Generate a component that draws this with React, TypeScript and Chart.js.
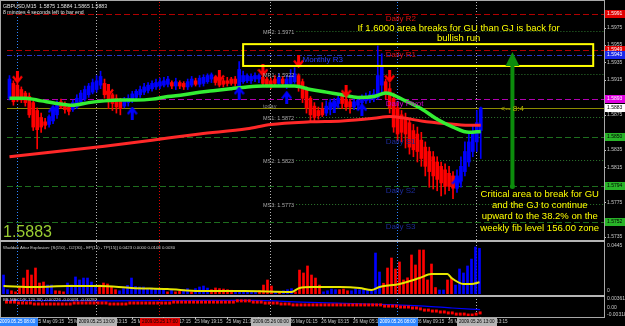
import React, { useEffect, useRef } from 'react';
import { Chart, registerables } from 'chart.js';

Chart.register(...registerables);

const W = 625;
const H = 326;
const FONT = "'Liberation Sans', Arial, sans-serif";
const BLUE = '#0000ff';
const RED = '#ff0000';

// ---------- header ----------
const symbolLine = 'GBPUSD,M15  1.5875 1.5884 1.5865 1.5883';
const timerLine = '8 minutes 4 seconds left to bar end';
const lastPrice = 1.5883;
const lastPriceText = '1.5883';
const timerTag = '<-- 8:4';

// ---------- Heikin-Ashi candles (15 minute bars) ----------
const opens = [
  1.5894, 1.5911, 1.5909, 1.5904, 1.5900, 1.5896, 1.5889, 1.5880, 1.5872, 1.5867,
  1.5864, 1.5868, 1.5875, 1.5890, 1.5888, 1.5884, 1.5881, 1.5884, 1.5890, 1.5893,
  1.5898, 1.5901, 1.5904, 1.5909, 1.5911, 1.5902, 1.5898, 1.5894, 1.5891, 1.5885,
  1.5889, 1.5892, 1.5895, 1.5898, 1.5901, 1.5903, 1.5905, 1.5907, 1.5908, 1.5909,
  1.5910, 1.5912, 1.5908, 1.5912, 1.5911, 1.5907, 1.5909, 1.5914, 1.5910, 1.5911,
  1.5913, 1.5916, 1.5918, 1.5916, 1.5914, 1.5914, 1.5916, 1.5916, 1.5904, 1.5913,
  1.5914, 1.5914, 1.5916, 1.5916, 1.5918, 1.5916, 1.5914, 1.5916, 1.5911, 1.5916,
  1.5909, 1.5911, 1.5913, 1.5920, 1.5913, 1.5904, 1.5894, 1.5885, 1.5880, 1.5882,
  1.5877, 1.5881, 1.5884, 1.5888, 1.5896, 1.5893, 1.5890, 1.5884, 1.5886, 1.5889,
  1.5891, 1.5892, 1.5893, 1.5895, 1.5909, 1.5913, 1.5905, 1.5894, 1.5883, 1.5875,
  1.5872, 1.5866, 1.5857, 1.5853, 1.5846, 1.5838, 1.5833, 1.5827, 1.5821, 1.5816,
  1.5812, 1.5808, 1.5805, 1.5792, 1.5799, 1.5810, 1.5821, 1.5833, 1.5844, 1.5857,
];
const closes = [
  1.5916, 1.5890, 1.5892, 1.5892, 1.5889, 1.5875, 1.5861, 1.5858, 1.5861, 1.5863,
  1.5873, 1.5882, 1.5886, 1.5884, 1.5881, 1.5879, 1.5889, 1.5894, 1.5900, 1.5904,
  1.5908, 1.5912, 1.5914, 1.5919, 1.5898, 1.5892, 1.5888, 1.5884, 1.5882, 1.5892,
  1.5894, 1.5899, 1.5902, 1.5904, 1.5907, 1.5909, 1.5911, 1.5912, 1.5913, 1.5914,
  1.5916, 1.5908, 1.5913, 1.5908, 1.5907, 1.5913, 1.5916, 1.5910, 1.5917, 1.5918,
  1.5920, 1.5921, 1.5912, 1.5909, 1.5910, 1.5911, 1.5911, 1.5911, 1.5927, 1.5920,
  1.5920, 1.5919, 1.5920, 1.5920, 1.5911, 1.5909, 1.5909, 1.5911, 1.5918, 1.5911,
  1.5916, 1.5920, 1.5922, 1.5907, 1.5894, 1.5883, 1.5875, 1.5872, 1.5874, 1.5875,
  1.5885, 1.5889, 1.5891, 1.5894, 1.5888, 1.5884, 1.5884, 1.5890, 1.5892, 1.5894,
  1.5896, 1.5898, 1.5899, 1.5920, 1.5931, 1.5898, 1.5883, 1.5861, 1.5853, 1.5855,
  1.5853, 1.5838, 1.5835, 1.5833, 1.5825, 1.5816, 1.5810, 1.5805, 1.5801, 1.5797,
  1.5793, 1.5793, 1.5791, 1.5805, 1.5816, 1.5833, 1.5844, 1.5855, 1.5866, 1.5883,
];
const highs = [
  1.5920, 1.5914, 1.5911, 1.5907, 1.5902, 1.5900, 1.5891, 1.5883, 1.5877, 1.5871,
  1.5875, 1.5884, 1.5891, 1.5893, 1.5890, 1.5886, 1.5892, 1.5898, 1.5903, 1.5908,
  1.5911, 1.5916, 1.5920, 1.5925, 1.5916, 1.5904, 1.5900, 1.5898, 1.5894, 1.5895,
  1.5898, 1.5902, 1.5904, 1.5908, 1.5911, 1.5912, 1.5914, 1.5916, 1.5917, 1.5918,
  1.5919, 1.5914, 1.5917, 1.5914, 1.5913, 1.5916, 1.5919, 1.5917, 1.5920, 1.5921,
  1.5922, 1.5923, 1.5919, 1.5918, 1.5917, 1.5918, 1.5918, 1.5919, 1.5936, 1.5925,
  1.5922, 1.5922, 1.5923, 1.5922, 1.5919, 1.5918, 1.5917, 1.5920, 1.5922, 1.5919,
  1.5920, 1.5927, 1.5929, 1.5922, 1.5916, 1.5907, 1.5896, 1.5889, 1.5884, 1.5889,
  1.5891, 1.5893, 1.5894, 1.5898, 1.5899, 1.5896, 1.5893, 1.5893, 1.5895, 1.5898,
  1.5900, 1.5902, 1.5904, 1.5954, 1.5945, 1.5916, 1.5911, 1.5900, 1.5889, 1.5880,
  1.5877, 1.5871, 1.5864, 1.5861, 1.5855, 1.5844, 1.5838, 1.5833, 1.5827, 1.5821,
  1.5819, 1.5816, 1.5810, 1.5812, 1.5827, 1.5844, 1.5853, 1.5864, 1.5880, 1.5884,
];
const lows = [
  1.5892, 1.5886, 1.5890, 1.5889, 1.5885, 1.5872, 1.5857, 1.5836, 1.5855, 1.5859,
  1.5861, 1.5865, 1.5871, 1.5882, 1.5877, 1.5875, 1.5879, 1.5882, 1.5888, 1.5891,
  1.5895, 1.5899, 1.5901, 1.5905, 1.5894, 1.5882, 1.5880, 1.5877, 1.5875, 1.5883,
  1.5885, 1.5889, 1.5893, 1.5895, 1.5898, 1.5900, 1.5902, 1.5904, 1.5905, 1.5907,
  1.5907, 1.5905, 1.5904, 1.5905, 1.5904, 1.5904, 1.5907, 1.5908, 1.5907, 1.5908,
  1.5911, 1.5912, 1.5909, 1.5907, 1.5907, 1.5908, 1.5909, 1.5908, 1.5900, 1.5911,
  1.5912, 1.5911, 1.5913, 1.5912, 1.5909, 1.5907, 1.5905, 1.5908, 1.5909, 1.5908,
  1.5905, 1.5908, 1.5911, 1.5902, 1.5889, 1.5877, 1.5868, 1.5866, 1.5870, 1.5873,
  1.5874, 1.5875, 1.5880, 1.5884, 1.5882, 1.5880, 1.5877, 1.5881, 1.5882, 1.5885,
  1.5888, 1.5889, 1.5890, 1.5893, 1.5900, 1.5893, 1.5877, 1.5855, 1.5846, 1.5844,
  1.5837, 1.5830, 1.5827, 1.5821, 1.5816, 1.5805, 1.5792, 1.5790, 1.5788, 1.5782,
  1.5784, 1.5788, 1.5779, 1.5786, 1.5792, 1.5805, 1.5816, 1.5827, 1.5833, 1.5825,
];

// ---------- moving averages ----------
const fastMaBars = [0, 4, 8, 12, 16, 20, 24, 28, 32, 36, 40, 44, 48, 52, 56, 60, 64, 68, 72, 76, 80, 84, 88, 92, 95, 100, 104, 108, 112, 116, 119];
const fastMa = [1.5894, 1.5894, 1.5891, 1.5888, 1.5886, 1.5889, 1.5891, 1.5892, 1.5892, 1.5893, 1.5896, 1.5898, 1.5901, 1.5903, 1.5905, 1.5907, 1.5908, 1.5908, 1.5908, 1.5904, 1.5901, 1.5898, 1.5895, 1.5896, 1.5900, 1.5891, 1.5882, 1.5870, 1.5861, 1.5855, 1.5856];
const slowMaBars = [0, 12, 24, 36, 48, 60, 66, 76, 84, 92, 96, 100, 104, 110, 116, 119];
const slowMa = [1.5827, 1.5833, 1.5839, 1.5846, 1.5853, 1.5859, 1.5864, 1.5867, 1.5868, 1.5871, 1.5873, 1.5871, 1.5868, 1.5865, 1.5863, 1.5863];

// ---------- signal arrows ----------
const sellArrowBars = [2, 25, 53, 64, 73, 85, 96];
const sellArrowPrices = [1.5918, 1.5903, 1.5919, 1.5926, 1.5936, 1.5902, 1.5919];
const buyArrowBars = [11, 31, 58, 70, 82, 89, 113];
const buyArrowPrices = [1.5879, 1.5877, 1.5900, 1.5895, 1.5884, 1.5881, 1.5797];

// ---------- pivot levels ----------
const dailyNames = ['Daily R2', 'Daily R1', 'Daily Pivot', 'Daily S1', 'Daily S2', 'Daily S3'];
const dailyPrices = [1.5991, 1.5949, 1.5893, 1.5850, 1.5794, 1.5752];
const monthlyR3Name = 'Monthly R3';
const monthlyR3Price = 1.5943;
const monthlyNames = ['MR2', 'MR1', 'MS1', 'MS2', 'MS3'];
const monthlyPrices = [1.5971, 1.5922, 1.5872, 1.5823, 1.5773];
const todayName = 'today';
const priceTicks = [1.5995, 1.5975, 1.5955, 1.5935, 1.5915, 1.5895, 1.5875, 1.5855, 1.5835, 1.5815, 1.5795, 1.5775, 1.5755, 1.5735];

// ---------- time axis ----------
const timeLabelBars = [7, 15, 23, 31, 39, 47, 55, 63, 71, 79, 87, 95, 103, 111, 119];
const timeLabels = ['25 May 09:15', '25 May 11:15', '25 May 13:15', '25 May 15:15', '25 May 17:15', '25 May 19:15', '25 May 21:15', '25 May 23:15', '26 May 01:15', '26 May 03:15', '26 May 05:15', '26 May 07:15', '26 May 09:15', '26 May 11:15', '26 May 13:15'];
const sessionBars = [2, 22, 38, 66, 98, 118];
const sessionLabels = ['2009.05.25 08:00', '2009.05.25 13:00', '2009.05.25 17:00', '2009.05.26 00:00', '2009.05.26 08:00', '2009.05.26 13:00'];

// ---------- Waddah Attar Explosion ----------
const waddahTitle = 'Waddah Attar Explosion: [S(150) - D2(30) - EP(15) - TP(15)] 0.0423 0.0000 0.0108 0.0030';
const wadValues = [
  0.0176, 0.0040, 0.0030, 0.0020, 0.0060, 0.0148, 0.0222, 0.0176, 0.0241, 0.0102,
  0.0111, 0.0083, 0.0083, 0.0030, 0.0028, 0.0020, 0.0102, 0.0083, 0.0158, 0.0130,
  0.0148, 0.0148, 0.0111, 0.0083, 0.0083, 0.0102, 0.0093, 0.0065, 0.0040, 0.0030,
  0.0050, 0.0080, 0.0148, 0.0070, 0.0065, 0.0065, 0.0050, 0.0055, 0.0050, 0.0045,
  0.0050, 0.0020, 0.0040, 0.0020, 0.0025, 0.0040, 0.0050, 0.0020, 0.0050, 0.0065,
  0.0074, 0.0055, 0.0040, 0.0056, 0.0050, 0.0046, 0.0040, 0.0035, 0.0030, 0.0025,
  0.0020, 0.0020, 0.0015, 0.0015, 0.0030, 0.0083, 0.0130, 0.0074, 0.0020, 0.0020,
  0.0030, 0.0040, 0.0050, 0.0020, 0.0222, 0.0195, 0.0260, 0.0176, 0.0148, 0.0083,
  0.0020, 0.0030, 0.0046, 0.0040, 0.0040, 0.0046, 0.0030, 0.0030, 0.0046, 0.0040,
  0.0046, 0.0037, 0.0030, 0.0380, 0.0204, 0.0100, 0.0241, 0.0334, 0.0232, 0.0297,
  0.0130, 0.0150, 0.0362, 0.0269, 0.0408, 0.0408, 0.0130, 0.0278, 0.0060, 0.0037,
  0.0037, 0.0130, 0.0148, 0.0083, 0.0232, 0.0195, 0.0260, 0.0324, 0.0436, 0.0423,
];
const wadDirections = 'bbrrrrrrrr' + 'rbbrrrbbbb' + 'bbbbrrrrrb' + 'bbbbbbbbbb' + 'brbrrbbrbb' + 'bbrrrrrrbb' +
  'bbbbrrrrbr' + 'bbbrrrrrrr' + 'bbbbrrrbbb' + 'bbbbbrrrrr' + 'rrrrrrrrrb' + 'brrbbbbbbb';
const wadLineBars = [0, 8, 16, 24, 32, 41, 49, 60, 72, 74, 77, 84, 89, 92, 94, 99, 104, 107, 111, 112, 115, 117, 119];
const wadLine = [0.0074, 0.0065, 0.0074, 0.0074, 0.0056, 0.0046, 0.0028, 0.0028, 0.0019, 0.0056, 0.0065, 0.0065, 0.0056, 0.0037, 0.0065, 0.0093, 0.0148, 0.0185, 0.0185, 0.0148, 0.0093, 0.0093, 0.0108];
const wadScaleTop = 0.0445;

// ---------- BB MACD ----------
const macdTitle = 'BB MACD(K,120,30) -0.00226 -0.00091 -0.00282';
const macdDots = [
  0.0023, 0.0023, 0.0023, 0.0019, 0.0019, 0.0019, 0.0019, 0.0015, 0.0015, 0.0015,
  0.0015, 0.0015, 0.0015, 0.0015, 0.0015, 0.0015, 0.0015, 0.0019, 0.0019, 0.0019,
  0.0019, 0.0019, 0.0019, 0.0019, 0.0019, 0.0019, 0.0015, 0.0015, 0.0015, 0.0015,
  0.0015, 0.0019, 0.0019, 0.0019, 0.0019, 0.0019, 0.0019, 0.0019, 0.0019, 0.0019,
  0.0019, 0.0019, 0.0023, 0.0023, 0.0023, 0.0023, 0.0023, 0.0023, 0.0023, 0.0023,
  0.0023, 0.0023, 0.0023, 0.0023, 0.0023, 0.0023, 0.0023, 0.0023, 0.0028, 0.0028,
  0.0028, 0.0028, 0.0023, 0.0023, 0.0023, 0.0019, 0.0019, 0.0019, 0.0019, 0.0015,
  0.0015, 0.0015, 0.0011, 0.0011, 0.0011, 0.0011, 0.0011, 0.0011, 0.0011, 0.0011,
  0.0011, 0.0011, 0.0011, 0.0011, 0.0011, 0.0011, 0.0011, 0.0011, 0.0011, 0.0011,
  0.0011, 0.0011, 0.0011, 0.0011, 0.0011, 0.0006, 0.0006, 0.0006, 0.0006, 0.0002,
  0.0002, 0.0002, -0.0002, -0.0002, -0.0006, -0.0011, -0.0011, -0.0015, -0.0015, -0.0019,
  -0.0019, -0.0023, -0.0023, -0.0028, -0.0028, -0.0028, -0.0032, -0.0032, -0.0028, -0.0023,
];
const macdBandBars = [0, 25, 50, 62, 74, 87, 98, 105, 112, 119];
const macdBand = [0.0030, 0.0028, 0.0030, 0.0030, 0.0023, 0.0017, 0.0011, 0.0006, -0.0002, -0.0009];
const macdScale = [0.00361, 0.0, -0.00318];
const macdScaleText = ['0.00361', '0.00', '-0.00318'];

// ---------- annotations ----------
const boxBars = [59, 147.4];
const boxPrices = [1.5956, 1.5931];
const arrowBar = 127;
const arrowTailPrice = 1.5793;
const arrowBasePrice = 1.5931;
const arrowTipPrice = 1.5947;
const topNote = ['If 1.6000 area breaks for GU than GJ is back for', 'bullish run'];
const topNoteBar = 113.4;
const topNotePrice = 1.5974;
const bottomNote = ['Critical area to break for GU', 'and the GJ to continue', 'upward to the 38.2% on the', 'weekly fib level 156.00 zone'];
const bottomNoteBar = 133.9;
const bottomNotePrice = 1.5784;
const labelBarDaily = 95;
const labelBarMonthly = 64;
const labelBarMonthlyR3 = 74;
const timerTagBar = 124;
const shiftMarkerBar = 120;

// ---------- layout / style (not data) ----------
const X_MIN = -0.625;
const X_MAX = 150.125;
const Y_MIN = 1.573276;
const Y_MAX = 1.599855;
const PAD_L = 1;
const PAD_R = 21;
const dailyLineColors = ['#b00000', '#b00000', '#b000b0', '#1e6e1e', '#1e6e1e', '#1e6e1e'];
const dailyTextColors = ['#d81010', '#d81010', '#c800c8', '#1c2a96', '#1c2a96', '#1c2a96'];
const dailyBoxColors = ['#e00000', '#e00000', '#e000e0', '#28b428', '#28b428', '#28b428'];
const dailyBoxText = ['#ffffff', '#ffffff', '#ffffff', '#000000', '#000000', '#000000'];
const sessionColors = ['#2e86ff', '#b4b4b4', '#e00000', '#b4b4b4', '#2e86ff', '#b4b4b4'];
const sessionTextColors = ['#ffffff', '#000000', '#000000', '#000000', '#ffffff', '#000000'];

function makeArrow(color: string, down: boolean): HTMLCanvasElement {
  const c = document.createElement('canvas');
  c.width = 11;
  c.height = 13;
  const g = c.getContext('2d') as CanvasRenderingContext2D;
  if (!down) {
    g.translate(0, 13);
    g.scale(1, -1);
  }
  g.strokeStyle = color;
  g.lineWidth = 3;
  g.beginPath();
  g.moveTo(5.5, 0);
  g.lineTo(5.5, 11);
  g.stroke();
  g.lineWidth = 2.2;
  g.beginPath();
  g.moveTo(1, 5.5);
  g.lineTo(5.5, 11.5);
  g.lineTo(10, 5.5);
  g.stroke();
  return c;
}

function hLine(ctx: CanvasRenderingContext2D, y: number, x0: number, x1: number, color: string, dash: number[]) {
  const yy = Math.round(y) + 0.5;
  ctx.strokeStyle = color;
  ctx.lineWidth = 1;
  ctx.setLineDash(dash);
  ctx.beginPath();
  ctx.moveTo(x0, yy);
  ctx.lineTo(x1, yy);
  ctx.stroke();
  ctx.setLineDash([]);
}

const mainPlugin = {
  id: 'mainDecor',
  beforeDraw(chart: any) {
    const ctx: CanvasRenderingContext2D = chart.ctx;
    const a = chart.chartArea;
    const X = (v: number) => chart.scales.x.getPixelForValue(v);
    const Y = (v: number) => chart.scales.y.getPixelForValue(v);
    ctx.save();
    ctx.fillStyle = '#000';
    ctx.fillRect(0, 0, W, H);
    ctx.lineWidth = 1;
    sessionBars.forEach((b, k) => {
      const x = Math.floor(X(b)) + 0.5;
      ctx.strokeStyle = sessionColors[k];
      ctx.setLineDash([1, 2]);
      ctx.beginPath();
      ctx.moveTo(x, 2);
      ctx.lineTo(x, 317);
      ctx.stroke();
    });
    ctx.setLineDash([]);
    ctx.beginPath();
    ctx.rect(a.left, a.top, a.right - a.left, a.bottom - a.top);
    ctx.clip();
    dailyPrices.forEach((p, k) => hLine(ctx, Y(p), a.left, a.right, dailyLineColors[k], [6, 3]));
    hLine(ctx, Y(monthlyR3Price), a.left, a.right, '#2a36d0', [5, 2, 1, 2]);
    hLine(ctx, Y(lastPrice), a.left, a.right, '#8c8c00', []);
    ctx.font = `5.5px ${FONT}`;
    monthlyPrices.forEach((p, k) => {
      const label = `${monthlyNames[k]}: ${p.toFixed(4)}`;
      const x0 = X(labelBarMonthly) + ctx.measureText(label).width + 2;
      hLine(ctx, Y(p), x0, a.right, '#2e7a2e', [1, 2]);
    });
    ctx.restore();
  },
  afterDatasetsDraw(chart: any) {
    const ctx: CanvasRenderingContext2D = chart.ctx;
    const a = chart.chartArea;
    const X = (v: number) => chart.scales.x.getPixelForValue(v);
    const Y = (v: number) => chart.scales.y.getPixelForValue(v);
    ctx.save();
    ctx.beginPath();
    ctx.rect(a.left, a.top, a.right - a.left, a.bottom - a.top);
    ctx.clip();

    ctx.textAlign = 'left';
    ctx.textBaseline = 'top';
    ctx.font = `8px ${FONT}`;
    dailyNames.forEach((n, k) => {
      ctx.fillStyle = dailyTextColors[k];
      ctx.fillText(n, X(labelBarDaily), Math.round(Y(dailyPrices[k])) + 1);
    });
    ctx.fillStyle = '#2a3cff';
    ctx.fillText(monthlyR3Name, X(labelBarMonthlyR3), Math.round(Y(monthlyR3Price)) + 1);
    ctx.font = `5.5px ${FONT}`;
    ctx.textBaseline = 'middle';
    ctx.fillStyle = '#a8a8a8';
    monthlyPrices.forEach((p, k) => {
      ctx.fillText(`${monthlyNames[k]}: ${p.toFixed(4)}`, X(labelBarMonthly), Y(p) + 1.5);
    });
    ctx.fillStyle = '#8c8c8c';
    ctx.fillText(todayName, X(labelBarMonthly), Y(lastPrice) - 1.5);

    ctx.strokeStyle = '#ffff00';
    ctx.lineWidth = 2;
    ctx.strokeRect(X(boxBars[0]), Y(boxPrices[0]), X(boxBars[1]) - X(boxBars[0]), Y(boxPrices[1]) - Y(boxPrices[0]));

    const gx = X(arrowBar);
    ctx.strokeStyle = '#0c8c0c';
    ctx.fillStyle = '#0c8c0c';
    ctx.lineWidth = 4;
    ctx.beginPath();
    ctx.moveTo(gx, Y(arrowTailPrice));
    ctx.lineTo(gx, Y(arrowBasePrice));
    ctx.stroke();
    ctx.beginPath();
    ctx.moveTo(gx, Y(arrowTipPrice));
    ctx.lineTo(gx - 7, Y(arrowBasePrice));
    ctx.lineTo(gx + 7, Y(arrowBasePrice));
    ctx.closePath();
    ctx.fill();
    ctx.beginPath();
    ctx.arc(gx, Y(arrowTailPrice), 2.5, 0, Math.PI * 2);
    ctx.fill();

    ctx.fillStyle = '#ffff00';
    ctx.font = `9.5px ${FONT}`;
    ctx.textAlign = 'center';
    ctx.textBaseline = 'middle';
    topNote.forEach((s, k) => ctx.fillText(s, X(topNoteBar), Y(topNotePrice) + k * 10.3));
    bottomNote.forEach((s, k) => ctx.fillText(s, X(bottomNoteBar), Y(bottomNotePrice) + k * 11.3));
    ctx.textAlign = 'left';
    ctx.font = `8px ${FONT}`;
    ctx.fillStyle = '#b4b400';
    ctx.fillText(timerTag, X(timerTagBar), Y(lastPrice) + 1);

    const sx = X(shiftMarkerBar);
    ctx.fillStyle = '#e6e600';
    ctx.beginPath();
    ctx.moveTo(sx - 2, 2);
    ctx.lineTo(sx + 2, 2);
    ctx.lineTo(sx, 5);
    ctx.closePath();
    ctx.fill();
    ctx.restore();

    // ---- unclipped: big price, header, price scale, frame, time axis ----
    ctx.save();
    ctx.textAlign = 'left';
    ctx.font = `16px ${FONT}`;
    ctx.fillStyle = '#9acd32';
    ctx.textBaseline = 'alphabetic';
    ctx.fillText(lastPriceText, 3, 237);

    ctx.font = `5.2px ${FONT}`;
    ctx.fillStyle = '#e0e0e0';
    ctx.textBaseline = 'alphabetic';
    ctx.fillText(symbolLine, 3, 7.5);
    ctx.fillText(timerLine, 3, 13.5);

    const boxes = dailyPrices.map((p, k) => ({ p, bg: dailyBoxColors[k], fg: dailyBoxText[k] }));
    boxes.push({ p: monthlyR3Price, bg: '#1a28e8', fg: '#ffffff' });
    boxes.push({ p: lastPrice, bg: '#ffffff', fg: '#000000' });
    ctx.font = `5px ${FONT}`;
    ctx.textBaseline = 'middle';
    priceTicks.forEach((p) => {
      const y = Y(p);
      if (boxes.some((b) => Math.abs(Y(b.p) - y) < 4.5)) return;
      ctx.fillStyle = '#c8c8c8';
      ctx.fillText(p.toFixed(4), 607, y);
      ctx.fillRect(604, Math.round(y), 2, 1);
    });
    boxes.forEach((b) => {
      const y = Math.round(Y(b.p));
      ctx.fillStyle = b.bg;
      ctx.fillRect(605, y - 4, 20, 8);
      ctx.fillStyle = b.fg;
      ctx.fillText(b.p.toFixed(4), 607, y);
    });

    ctx.strokeStyle = '#a8a8a8';
    ctx.lineWidth = 1;
    ctx.strokeRect(0.5, 0.5, 604, 317);
    ctx.fillStyle = '#b4b4b4';
    ctx.fillRect(0, 240, 605, 2);
    ctx.fillRect(0, 295, 605, 2);

    ctx.font = `4.6px ${FONT}`;
    ctx.fillStyle = '#c8c8c8';
    timeLabelBars.forEach((b, k) => {
      ctx.fillText(timeLabels[k], X(b) - 1, 322);
      ctx.fillRect(Math.floor(X(b)), 317, 1, 2);
    });
    ctx.textAlign = 'center';
    sessionBars.forEach((b, k) => {
      const w = ctx.measureText(sessionLabels[k]).width + 4;
      const x = X(b);
      ctx.fillStyle = sessionColors[k];
      ctx.fillRect(Math.round(x - w / 2), 318, Math.round(w), 8);
      ctx.fillStyle = sessionTextColors[k];
      ctx.fillText(sessionLabels[k], x, 322);
    });
    ctx.restore();
  },
};

const wadPlugin = {
  id: 'wadDecor',
  afterDraw(chart: any) {
    const ctx: CanvasRenderingContext2D = chart.ctx;
    const Y = (v: number) => chart.scales.y.getPixelForValue(v);
    ctx.save();
    ctx.textAlign = 'left';
    ctx.textBaseline = 'middle';
    ctx.font = `4.3px ${FONT}`;
    ctx.fillStyle = '#d0d0d0';
    ctx.fillText(waddahTitle, 3, 248);
    ctx.font = `5px ${FONT}`;
    ctx.fillStyle = '#c8c8c8';
    ctx.fillText(wadScaleTop.toFixed(4), 607, Y(wadScaleTop));
    ctx.fillText('0', 607, Y(0) - 3);
    ctx.restore();
  },
};

const macdPlugin = {
  id: 'macdDecor',
  afterDraw(chart: any) {
    const ctx: CanvasRenderingContext2D = chart.ctx;
    const Y = (v: number) => chart.scales.y.getPixelForValue(v);
    ctx.save();
    ctx.textAlign = 'left';
    ctx.textBaseline = 'middle';
    ctx.font = `4.3px ${FONT}`;
    ctx.fillStyle = '#d0d0d0';
    ctx.fillText(macdTitle, 3, 300);
    ctx.font = `5px ${FONT}`;
    ctx.fillStyle = '#c8c8c8';
    macdScale.forEach((v, k) => ctx.fillText(macdScaleText[k], 607, Y(v)));
    ctx.restore();
  },
};

export default function App() {
  const mainRef = useRef<HTMLCanvasElement>(null);
  const wadRef = useRef<HTMLCanvasElement>(null);
  const macdRef = useRef<HTMLCanvasElement>(null);

  useEffect(() => {
    document.body.style.margin = '0';
    document.body.style.background = '#000';
    const idx = opens.map((_, i) => i);
    const candleColors = idx.map((i) => (closes[i] >= opens[i] ? BLUE : RED));
    const sellImg = makeArrow(RED, true);
    const buyImg = makeArrow(BLUE, false);
    const xScale: any = { type: 'linear', min: X_MIN, max: X_MAX, display: false, offset: false, bounds: 'data' };
    const common: any = {
      responsive: false,
      animation: false,
      devicePixelRatio: 1,
      events: [],
      plugins: { legend: { display: false }, tooltip: { enabled: false } },
    };

    const main = new Chart(mainRef.current as HTMLCanvasElement, {
      type: 'bar',
      data: {
        datasets: [
          {
            type: 'line',
            data: sellArrowBars.map((b, k) => ({ x: b, y: sellArrowPrices[k] })),
            showLine: false,
            pointStyle: sellImg as any,
            pointRadius: 6,
            order: 0,
          } as any,
          {
            type: 'line',
            data: buyArrowBars.map((b, k) => ({ x: b, y: buyArrowPrices[k] })),
            showLine: false,
            pointStyle: buyImg as any,
            pointRadius: 6,
            order: 0,
          } as any,
          {
            type: 'line',
            data: fastMaBars.map((b, k) => ({ x: b, y: fastMa[k] })),
            borderColor: '#33ee33',
            borderWidth: 3.5,
            pointRadius: 0,
            cubicInterpolationMode: 'monotone',
            order: 1,
          } as any,
          {
            type: 'line',
            data: slowMaBars.map((b, k) => ({ x: b, y: slowMa[k] })),
            borderColor: '#ff2828',
            borderWidth: 3,
            pointRadius: 0,
            cubicInterpolationMode: 'monotone',
            order: 2,
          } as any,
          {
            type: 'bar',
            data: idx.map((i) => ({ x: i, y: [opens[i], closes[i]] })),
            backgroundColor: candleColors,
            barThickness: 3,
            grouped: false,
            order: 3,
          } as any,
          {
            type: 'bar',
            data: idx.map((i) => ({ x: i, y: [lows[i], highs[i]] })),
            backgroundColor: candleColors,
            barThickness: 1,
            grouped: false,
            order: 4,
          } as any,
        ],
      },
      options: {
        ...common,
        layout: { padding: { left: PAD_L, right: PAD_R, top: 2, bottom: 87 } },
        scales: {
          x: xScale,
          y: { type: 'linear', min: Y_MIN, max: Y_MAX, display: false, bounds: 'data' },
        },
      },
      plugins: [mainPlugin],
    } as any);

    const wadColors = wadDirections.split('').map((c) => (c === 'b' ? BLUE : RED));
    const wad = new Chart(wadRef.current as HTMLCanvasElement, {
      type: 'bar',
      data: {
        datasets: [
          {
            type: 'line',
            data: wadLineBars.map((b, k) => ({ x: b, y: wadLine[k] })),
            borderColor: '#e6e600',
            borderWidth: 2,
            pointRadius: 0,
            cubicInterpolationMode: 'monotone',
            order: 0,
          } as any,
          {
            type: 'bar',
            data: idx.map((i) => ({ x: i, y: wadValues[i] })),
            backgroundColor: wadColors,
            barThickness: 2,
            grouped: false,
            order: 1,
          } as any,
        ],
      },
      options: {
        ...common,
        layout: { padding: { left: PAD_L, right: PAD_R, top: 243, bottom: 32 } },
        scales: {
          x: xScale,
          y: { type: 'linear', min: 0, max: 0.04729, display: false, bounds: 'data' },
        },
      },
      plugins: [wadPlugin],
    } as any);

    const macd = new Chart(macdRef.current as HTMLCanvasElement, {
      type: 'line',
      data: {
        datasets: [
          {
            data: idx.map((i) => ({ x: i, y: macdDots[i] })),
            showLine: false,
            pointStyle: 'rect',
            pointRadius: 2.1,
            borderWidth: 0,
            backgroundColor: RED,
            order: 0,
          } as any,
          {
            data: macdBandBars.map((b, k) => ({ x: b, y: macdBand[k] })),
            borderColor: BLUE,
            borderWidth: 1.2,
            pointRadius: 0,
            cubicInterpolationMode: 'monotone',
            order: 1,
          } as any,
        ],
      },
      options: {
        ...common,
        layout: { padding: { left: PAD_L, right: PAD_R, top: 297, bottom: 10 } },
        scales: {
          x: xScale,
          y: { type: 'linear', min: -0.003605, max: 0.004459, display: false, bounds: 'data' },
        },
      },
      plugins: [macdPlugin],
    } as any);

    return () => {
      main.destroy();
      wad.destroy();
      macd.destroy();
    };
  }, []);

  const cs: React.CSSProperties = { position: 'absolute', left: 0, top: 0, width: W, height: H };
  return (
    <div style={{ position: 'relative', width: W, height: H, background: '#000', overflow: 'hidden' }}>
      <canvas ref={mainRef} width={W} height={H} style={cs} />
      <canvas ref={wadRef} width={W} height={H} style={cs} />
      <canvas ref={macdRef} width={W} height={H} style={cs} />
    </div>
  );
}
